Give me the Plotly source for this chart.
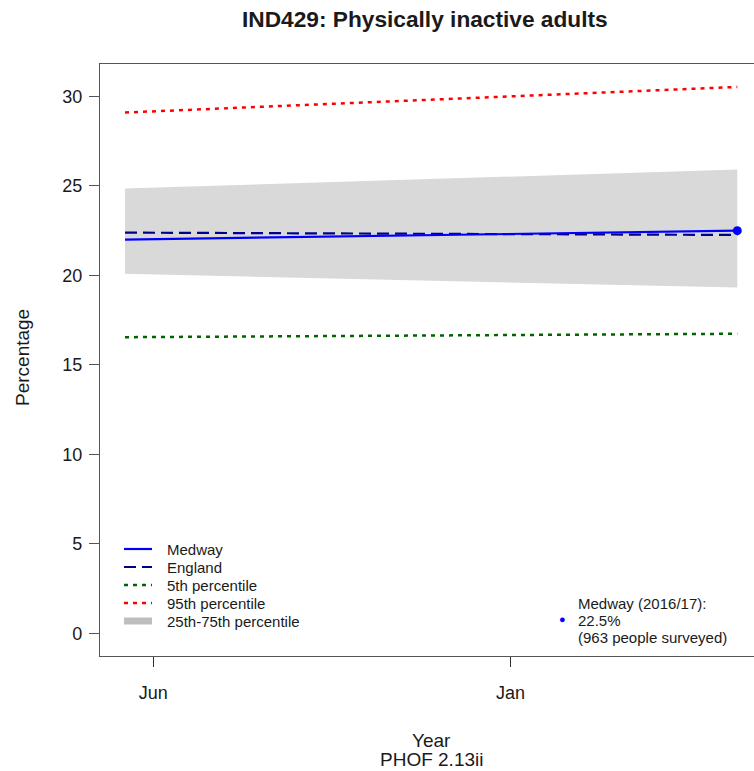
import pandas as pd
import plotly.graph_objects as go

# ---- data ----
dates = ["2015-05-15", "2016-05-16"]
medway = [21.99, 22.49]
england = [22.38, 22.25]
p5 = [16.54, 16.73]
p95 = [29.09, 30.52]
p25 = [20.08, 19.31]
p75 = [24.85, 25.90]
xtick_vals = ["2015-06-01", "2016-01-01"]
xtick_text = ["Jun", "Jan"]
ytick_vals = [0, 5, 10, 15, 20, 25, 30]
title = "<b>IND429: Physically inactive adults</b>"
note_lines = ["Medway (2016/17):", "22.5%", "(963 people surveyed)"]
legend_names = ["Medway", "England", "5th percentile", "95th percentile", "25th-75th percentile"]

# ---- styles ----
C_MED = "#0000ff"
C_ENG = "#00008b"
C_P5 = "#006400"
C_P95 = "#ff0000"
C_BAND = "#d9d9d9"
C_BAND_LEG = "#bebebe"
DASH_ENG = "12px,6px"
DASH_DOT = "4px,5px"
legend_styles = [
    dict(color=C_MED, width=2.2),
    dict(color=C_ENG, width=2.2, dash=DASH_ENG),
    dict(color=C_P5, width=2.5, dash=DASH_DOT),
    dict(color=C_P95, width=2.5, dash=DASH_DOT),
    dict(color=C_BAND_LEG, width=7),
]

# ---- layout geometry ----
W, H = 754, 771
L, R, T, B = 100, 0, 64, 115
pw = W - L - R
ph = H - T - B
t0, t1 = pd.Timestamp(dates[0]), pd.Timestamp(dates[-1])
D = t1 - t0
span_px = 612.3
x_left = t0 - D * (25 / span_px)
x_right = x_left + D * (pw / span_px)


def px2x(px):
    return (px - L) / pw


def px2y(py):
    return (T + ph - py) / ph


FONT = "Liberation Sans, Arial, sans-serif"
TXT = "#1a1a1a"

fig = go.Figure()

# band
fig.add_trace(go.Scatter(x=dates, y=p25, mode="lines", line=dict(width=0, color=C_BAND),
                         showlegend=False, hoverinfo="skip"))
fig.add_trace(go.Scatter(x=dates, y=p75, mode="lines", line=dict(width=0, color=C_BAND),
                         fill="tonexty", fillcolor=C_BAND, showlegend=False, hoverinfo="skip"))

fig.add_trace(go.Scatter(x=dates, y=p95, mode="lines", name="95th percentile",
                         line=legend_styles[3], showlegend=False))
fig.add_trace(go.Scatter(x=dates, y=p5, mode="lines", name="5th percentile",
                         line=legend_styles[2], showlegend=False))
fig.add_trace(go.Scatter(x=dates, y=england, mode="lines", name="England",
                         line=legend_styles[1], showlegend=False))
fig.add_trace(go.Scatter(x=dates, y=medway, mode="lines", name="Medway",
                         line=legend_styles[0], showlegend=False))
fig.add_trace(go.Scatter(x=[dates[-1]], y=[medway[-1]], mode="markers",
                         marker=dict(color=C_MED, size=9), showlegend=False))

annotations = [
    dict(text=title, xref="paper", yref="paper", x=px2x(425), y=px2y(19),
         xanchor="center", yanchor="middle", showarrow=False, font=dict(size=22.7, family=FONT, color=TXT)),
    dict(text="Percentage", xref="paper", yref="paper", x=px2x(22), y=px2y(358),
         textangle=-90, xanchor="center", yanchor="middle", showarrow=False,
         font=dict(size=19, family=FONT, color=TXT)),
    dict(text="Year", xref="paper", yref="paper", x=px2x(431), y=px2y(740),
         xanchor="center", yanchor="middle", showarrow=False,
         font=dict(size=19, family=FONT, color=TXT)),
    dict(text="PHOF 2.13ii", xref="paper", yref="paper", x=px2x(431), y=px2y(759),
         xanchor="center", yanchor="middle", showarrow=False,
         font=dict(size=19, family=FONT, color=TXT)),
    dict(text="●", xref="paper", yref="paper", x=px2x(562), y=px2y(619),
         xanchor="center", yanchor="middle", showarrow=False, font=dict(size=11, family=FONT, color=C_MED)),
]
for i, line in enumerate(note_lines):
    annotations.append(dict(text=line, xref="paper", yref="paper", x=px2x(576), y=px2y(603 + 17 * i),
                            xanchor="left", yanchor="middle", showarrow=False,
                            font=dict(size=15, family=FONT, color=TXT)))

shapes = []
for i, (name, st) in enumerate(zip(legend_names, legend_styles)):
    yy = px2y(549 + 18 * i)
    shapes.append(dict(type="line", xref="paper", yref="paper", x0=px2x(124), x1=px2x(152),
                       y0=yy, y1=yy, line=st, layer="above"))
    annotations.append(dict(text=name, xref="paper", yref="paper", x=px2x(165), y=yy,
                            xanchor="left", yanchor="middle", showarrow=False,
                            font=dict(size=15, family=FONT, color=TXT)))

fig.update_layout(
    width=W, height=H,
    margin=dict(l=L, r=R, t=T, b=B),
    paper_bgcolor="white", plot_bgcolor="white",
    font=dict(family=FONT, color=TXT),
    annotations=annotations,
    shapes=shapes,
    showlegend=False,
)
fig.update_xaxes(
    type="date", range=[x_left, x_right], tickmode="array", tickvals=xtick_vals, ticktext=xtick_text,
    showgrid=False, zeroline=False, showline=True, mirror=True, linecolor="#555555", linewidth=1.3,
    ticks="outside", ticklen=10, tickcolor="#333333", tickwidth=1,
    tickfont=dict(size=18, family=FONT, color=TXT), ticklabelstandoff=10,
)
fig.update_yaxes(
    range=[-1.27, 31.8], tickmode="array", tickvals=ytick_vals,
    showgrid=False, zeroline=False, showline=True, mirror=False, linecolor="#555555", linewidth=1.3,
    ticks="outside", ticklen=10, tickcolor="#555555", tickwidth=1,
    tickfont=dict(size=18, family=FONT, color=TXT), ticklabelstandoff=3,
)

fig.write_html("out.html")
